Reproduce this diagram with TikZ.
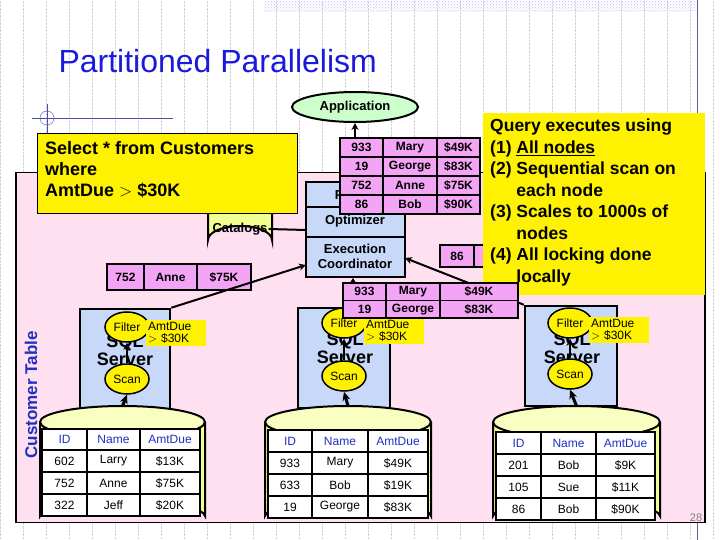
\documentclass[tikz,border=0pt]{standalone}
\usepackage{fontspec}
\setmainfont{Liberation Sans}
\usetikzlibrary{shapes.geometric,arrows.meta,patterns}
\definecolor{pinkbg}{HTML}{FFE0F0}
\definecolor{pinkcell}{HTML}{F4A4F4}
\definecolor{srvblue}{HTML}{C8D8F8}
\definecolor{cylyel}{HTML}{F0FF90}
\definecolor{cyltop}{HTML}{F8FFC0}
\definecolor{ttlblue}{HTML}{1A1ADC}
\definecolor{hdrblue}{HTML}{2030C0}
\definecolor{appgreen}{HTML}{CCFFCC}
\newcommand\fs[1]{\fontsize{#1}{#1}\selectfont}
\newcommand\tcell[7]{\node[#1,minimum width={#5pt-#3pt},minimum height={#6pt-#4pt}] (#2) at ({(#3+#5)/2},{(#4+#6)/2}) {#7};}
\newcommand\cylbody[5]{% name x1 x2 ytop ybot
  \fill[cylyel] (#2,#4) -- (#2,#5) arc[start angle=180,end angle=360,x radius={(#3-#2)/2},y radius=14] -- (#3,#4) -- cycle;
  \draw[line width=2pt] (#2,#4) -- (#2,#5) arc[start angle=180,end angle=360,x radius={(#3-#2)/2},y radius=14] -- (#3,#4);
  \node[draw,line width=2pt,fill=cyltop,ellipse,minimum width={#3pt-#2pt},minimum height=32pt,inner sep=0] (#1) at ({(#2+#3)/2},#4) {};}
\begin{document}
\begin{tikzpicture}[x=1pt,y=-1pt,
  pcell/.style={draw,line width=1.2pt,fill=pinkcell,inner sep=0,font=\fs{12}\bfseries},
  bcell/.style={draw,line width=1.5pt,fill=white,inner sep=0,font=\fs{12}},
  hcell/.style={bcell,text=hdrblue},
  srv/.style={draw,line width=2.5pt,fill=srvblue,inner sep=0},
  yel/.style={ellipse,draw,line width=1.5pt,fill=yellow,inner sep=0,minimum width=44pt,minimum height=30pt,font=\fs{12}},
  lbl/.style={fill=yellow,align=left,font=\fs{12},inner sep=2pt,text width=56pt},
  arr/.style={line width=2pt,-{Stealth[length=7pt,width=7pt]}},
  fat/.style={line width=3pt,-{Stealth[length=9pt,width=8pt]}},
  sqltxt/.style={font=\fs{18}\bfseries,align=center}]
\useasboundingbox (0,0) rectangle (720,540);
\fill[white] (0,0) rectangle (720,540);
\draw[gray!35,densely dotted] (0,0) grid[step=23] (720,540);
\fill[pattern=crosshatch dots,pattern color=blue!25] (264,0) rectangle (697,12);
\draw[blue!30!gray,thin] (697,0) -- (697,540);
\node[anchor=base west,text=ttlblue,font=\fs{32}] (title) at (55,73) {Partitioned Parallelism};
\draw[blue!40!gray] (32,118) -- (173,118) (47,104) -- (47,135);
\draw[blue!40!gray] (47,118) circle (7);
% pink area
\node[draw,line width=1.5pt,fill=pinkbg,minimum width=689pt,minimum height=350pt,inner sep=0] (pink) at (360.5,347.5) {};
\node[rotate=90,text=hdrblue,font=\fs{17}\bfseries] (ctab) at (31,395) {Customer Table};
% catalogs
\cylbody{catalogs}{208}{272}{180}{240}
\node[font=\fs{13}\bfseries,inner sep=1pt] (catlbl) at (240,229) {Catalogs};
% query box
\node[draw,fill=yellow,minimum width=260pt,minimum height=80pt,inner sep=0] (query) at (167,173) {};
\node[anchor=north west,align=left,font=\fs{18}\bfseries,inner sep=0] (qtext) at (45,141) {Select * from Customers\\[3pt]where\\[3pt]AmtDue $>$ \$30K};
% coordinator
\node[draw,line width=2pt,fill=srvblue,minimum width=99pt,minimum height=95pt,inner sep=0] (coord) at (355.5,229.5) {};
\draw[line width=2pt] (306,207) -- (405,207) (306,237) -- (405,237);
\node[font=\fs{13}\bfseries] (parser) at (355,195) {Parser};
\node[font=\fs{13}\bfseries] (optim) at (355,221) {Optimizer};
\node[font=\fs{13}\bfseries,align=center] (exec) at (355,256) {Execution\\[2pt]Coordinator};
\draw[line width=2pt] (catlbl.east) -- (306,230);
% top result table
\tcell{pcell}{a1}{340}{138}{383}{157}{933}\tcell{pcell}{a2}{383}{138}{437}{157}{Mary}\tcell{pcell}{a3}{437}{138}{480}{157}{\$49K}
\tcell{pcell}{b1}{340}{157}{383}{176}{19}\tcell{pcell}{b2}{383}{157}{437}{176}{George}\tcell{pcell}{b3}{437}{157}{480}{176}{\$83K}
\tcell{pcell}{c1}{340}{176}{383}{195}{752}\tcell{pcell}{c2}{383}{176}{437}{195}{Anne}\tcell{pcell}{c3}{437}{176}{480}{195}{\$75K}
\tcell{pcell}{d1}{340}{195}{383}{214}{86}\tcell{pcell}{d2}{383}{195}{437}{214}{Bob}\tcell{pcell}{d3}{437}{195}{480}{214}{\$90K}
\node[ellipse,draw,line width=2pt,fill=appgreen,minimum width=126pt,minimum height=30pt,inner sep=0,font=\fs{13}\bfseries] (app) at (355,107) {Application};
\draw[arr] (a1.north -| 355,0) -- (app.south);
% 752 row and 86 row
\tcell{pcell}{e1}{107}{264}{144}{290}{752}\tcell{pcell}{e2}{144}{264}{197}{290}{Anne}\tcell{pcell}{e3}{197}{264}{251}{290}{\$75K}
\tcell{pcell}{f1}{440}{245}{474}{267}{86}\tcell{pcell}{f2}{474}{245}{500}{267}{}
% note
\node[fill=yellow,minimum width=222pt,minimum height=182pt,inner sep=0] (note) at (594,204) {};
\node[anchor=north west,align=left,font=\fs{17.5}\bfseries,inner sep=0] (ntext) at (490,119) {Query executes using\\[4pt]
(1) \underline{All nodes}\\[4pt]
(2) Sequential scan on\\[4pt]
\hphantom{(2) }each node\\[4pt]
(3) Scales to 1000s of\\[4pt]
\hphantom{(3) }nodes\\[4pt]
(4) All locking done\\[4pt]
\hphantom{(4) }locally};
% servers
\node[srv,minimum width=90pt,minimum height=100pt] (s1) at (125,359) {};
\node[srv,minimum width=92pt,minimum height=100pt] (s2) at (344,358) {};
\node[srv,minimum width=92pt,minimum height=100pt] (s3) at (571,356) {};
\node[sqltxt] (q1) at (125,350) {SQL\\Server};
\node[sqltxt] (q2) at (345,348) {SQL\\Server};
\node[sqltxt] (q3) at (572,348) {SQL\\Server};
\node[yel] (fi1) at (127,327) {Filter};
\node[yel] (sc1) at (127,379) {Scan};
\node[yel] (fi2) at (344,323) {Filter};
\node[yel] (sc2) at (344,376) {Scan};
\node[yel] (fi3) at (570,323) {Filter};
\node[yel] (sc3) at (570,374) {Scan};
\node[lbl] (l1) at (176,333) {AmtDue\\$>$ \$30K};
\node[lbl] (l2) at (394,331) {AmtDue\\$>$ \$30K};
\node[lbl] (l3) at (619,330) {AmtDue\\$>$ \$30K};
\draw[arr] (sc1) -- (fi1);
\draw[arr] (sc2) -- (fi2);
\draw[arr] (sc3) -- (fi3);
\draw[arr] (s1.north east) -- (306,265);
\draw[arr] (s3.north west) -- (405,258);
% table 2
\tcell{pcell}{g1}{343}{283}{386}{300.5}{933}\tcell{pcell}{g2}{386}{283}{440}{300.5}{Mary}\tcell{pcell}{g3}{440}{283}{518}{300.5}{\$49K}
\tcell{pcell}{h1}{343}{300.5}{386}{318}{19}\tcell{pcell}{h2}{386}{300.5}{440}{318}{George}\tcell{pcell}{h3}{440}{300.5}{518}{318}{\$83K}
\draw[line width=2pt,-{Stealth[length=5pt,width=6pt]}] (g1.north -| 353,0) -- (coord.south -| 353,0);
% cylinders
\cylbody{cy1}{40}{205}{422}{516}
\cylbody{cy2}{265}{431}{422}{516}
\cylbody{cy3}{493}{660}{422}{516}
\draw[fat] (cy1.center |- 0,406) -- (sc1.south);
\draw[fat] (cy2.center |- 0,406) -- (sc2.south);
\draw[fat] (cy3.center |- 0,406) -- (sc3.south);
% bottom tables
\tcell{hcell}{t1h1}{42}{429}{87}{450}{ID}\tcell{hcell}{t1h2}{87}{429}{140}{450}{Name}\tcell{hcell}{t1h3}{140}{429}{200}{450}{AmtDue}
\tcell{bcell}{t1a}{42}{450}{87}{472}{602}\tcell{bcell}{t1b}{87}{450}{140}{472}{Larry}\tcell{bcell}{t1c}{140}{450}{200}{472}{\$13K}
\tcell{bcell}{t1d}{42}{472}{87}{494}{752}\tcell{bcell}{t1e}{87}{472}{140}{494}{Anne}\tcell{bcell}{t1f}{140}{472}{200}{494}{\$75K}
\tcell{bcell}{t1g}{42}{494}{87}{516}{322}\tcell{bcell}{t1h}{87}{494}{140}{516}{Jeff}\tcell{bcell}{t1i}{140}{494}{200}{516}{\$20K}
\tcell{hcell}{t2h1}{268}{430}{312}{452}{ID}\tcell{hcell}{t2h2}{312}{430}{368}{452}{Name}\tcell{hcell}{t2h3}{368}{430}{428}{452}{AmtDue}
\tcell{bcell}{t2a}{268}{452}{312}{474}{933}\tcell{bcell}{t2b}{312}{452}{368}{474}{Mary}\tcell{bcell}{t2c}{368}{452}{428}{474}{\$49K}
\tcell{bcell}{t2d}{268}{474}{312}{496}{633}\tcell{bcell}{t2e}{312}{474}{368}{496}{Bob}\tcell{bcell}{t2f}{368}{474}{428}{496}{\$19K}
\tcell{bcell}{t2g}{268}{496}{312}{518}{19}\tcell{bcell}{t2h}{312}{496}{368}{518}{George}\tcell{bcell}{t2i}{368}{496}{428}{518}{\$83K}
\tcell{hcell}{t3h1}{496}{432}{541}{454}{ID}\tcell{hcell}{t3h2}{541}{432}{596}{454}{Name}\tcell{hcell}{t3h3}{596}{432}{655}{454}{AmtDue}
\tcell{bcell}{t3a}{496}{454}{541}{476}{201}\tcell{bcell}{t3b}{541}{454}{596}{476}{Bob}\tcell{bcell}{t3c}{596}{454}{655}{476}{\$9K}
\tcell{bcell}{t3d}{496}{476}{541}{498}{105}\tcell{bcell}{t3e}{541}{476}{596}{498}{Sue}\tcell{bcell}{t3f}{596}{476}{655}{498}{\$11K}
\tcell{bcell}{t3g}{496}{498}{541}{520}{86}\tcell{bcell}{t3h}{541}{498}{596}{520}{Bob}\tcell{bcell}{t3i}{596}{498}{655}{520}{\$90K}
\node[text=gray,font=\fs{11}] (pg) at (696,518) {28};
\end{tikzpicture}
\end{document}
